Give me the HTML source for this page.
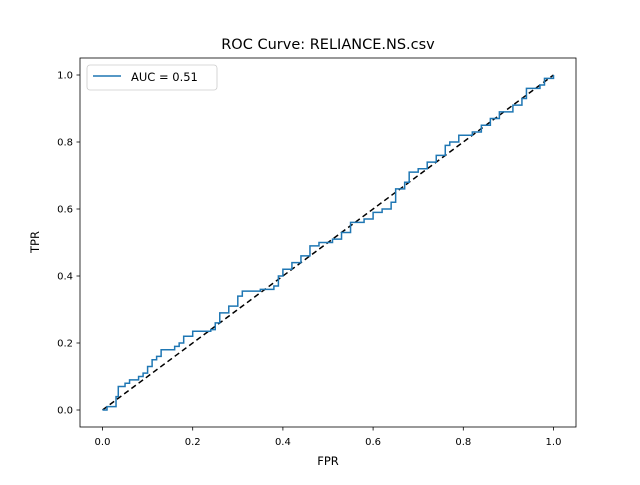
<!DOCTYPE html>
<html><head><meta charset="utf-8"><style>
body{margin:0;background:#fff}
svg text{font-family:"DejaVu Sans","Liberation Sans",sans-serif;fill:#000}
</style></head><body>
<svg id="chart" width="640" height="480" xmlns="http://www.w3.org/2000/svg">
<rect width="640" height="480" fill="#fff"/>
<text x="328" y="49" font-size="14.5" text-anchor="middle">ROC Curve: RELIANCE.NS.csv</text>
<g id="ticks"></g>
<line id="diag" stroke="#000" stroke-width="1.5" stroke-dasharray="5.5,3.5"/>
<path id="roc" fill="none" stroke="#1f77b4" stroke-width="1.5"/>
<rect x="80" y="58" width="496" height="369" fill="none" stroke="#000" stroke-width="0.8"/>
<text x="328" y="465" font-size="11.5" text-anchor="middle">FPR</text>
<text transform="translate(39,242) rotate(-90)" font-size="11.5" text-anchor="middle">TPR</text>
<g>
<rect x="87" y="65" width="130" height="25" rx="3" fill="#fff" stroke="#ccc" stroke-width="0.8"/>
<line x1="93" y1="76" x2="121" y2="76" stroke="#1f77b4" stroke-width="1.5"/>
<text x="131" y="81" font-size="11.5">AUC = 0.51</text>
</g>
</svg>
<script>
const fprVals=[0,0.01,0.03,0.03,0.035,0.05,0.06,0.08,0.09,0.10,0.11,0.12,0.13,0.16,0.17,0.18,0.20,0.24,0.25,0.26,0.28,0.30,0.31,0.35,0.38,0.39,0.40,0.42,0.44,0.46,0.48,0.51,0.53,0.55,0.58,0.60,0.62,0.64,0.65,0.67,0.68,0.70,0.72,0.74,0.76,0.77,0.79,0.82,0.84,0.86,0.88,0.91,0.93,0.94,0.97,0.98,1];
const tprVals=[0,0.01,0.01,0.04,0.07,0.08,0.09,0.10,0.11,0.13,0.15,0.16,0.18,0.19,0.20,0.22,0.235,0.24,0.26,0.29,0.31,0.34,0.355,0.36,0.37,0.40,0.42,0.44,0.46,0.49,0.50,0.51,0.53,0.56,0.57,0.59,0.60,0.62,0.66,0.68,0.71,0.72,0.74,0.76,0.79,0.80,0.82,0.83,0.85,0.87,0.89,0.91,0.93,0.96,0.97,0.99,1];
const tickVals=[0,0.2,0.4,0.6,0.8,1];
const tickLabels=["0.0","0.2","0.4","0.6","0.8","1.0"];
const X=v=>102.5+451*v, Y=v=>410-335*v;
const NS="http://www.w3.org/2000/svg";
const g=document.getElementById('ticks');
tickVals.forEach((v,i)=>{
 let l=document.createElementNS(NS,'line');
 l.setAttribute('x1',X(v));l.setAttribute('x2',X(v));l.setAttribute('y1',427);l.setAttribute('y2',430.5);l.setAttribute('stroke','#000');l.setAttribute('stroke-width','0.8');
 
 
 g.appendChild(l);
 let t=document.createElementNS(NS,'text');
 t.setAttribute('x',X(v));t.setAttribute('y',445);t.setAttribute('font-size','10');t.setAttribute('text-anchor','middle');t.textContent=tickLabels[i];
 
 
 g.appendChild(t);
 let l2=document.createElementNS(NS,'line');
 l2.setAttribute('x1',76.5);l2.setAttribute('x2',80);l2.setAttribute('y1',Y(v));l2.setAttribute('y2',Y(v));l2.setAttribute('stroke','#000');l2.setAttribute('stroke-width','0.8');
 
 
 g.appendChild(l2);
 let t2=document.createElementNS(NS,'text');
 t2.setAttribute('x',73);t2.setAttribute('y',Y(v)+3.5);t2.setAttribute('font-size','10');t2.setAttribute('text-anchor','end');t2.textContent=tickLabels[i];
 
 
 g.appendChild(t2);
});
const d=document.getElementById('diag');
d.setAttribute('x1',X(0));d.setAttribute('y1',Y(0));d.setAttribute('x2',X(1));d.setAttribute('y2',Y(1));
let p='M'+X(fprVals[0])+','+Y(tprVals[0]);
for(let i=1;i<fprVals.length;i++){p+=' L'+X(fprVals[i])+','+Y(tprVals[i-1])+' L'+X(fprVals[i])+','+Y(tprVals[i]);}
document.getElementById('roc').setAttribute('d',p);
</script>
</body></html>
